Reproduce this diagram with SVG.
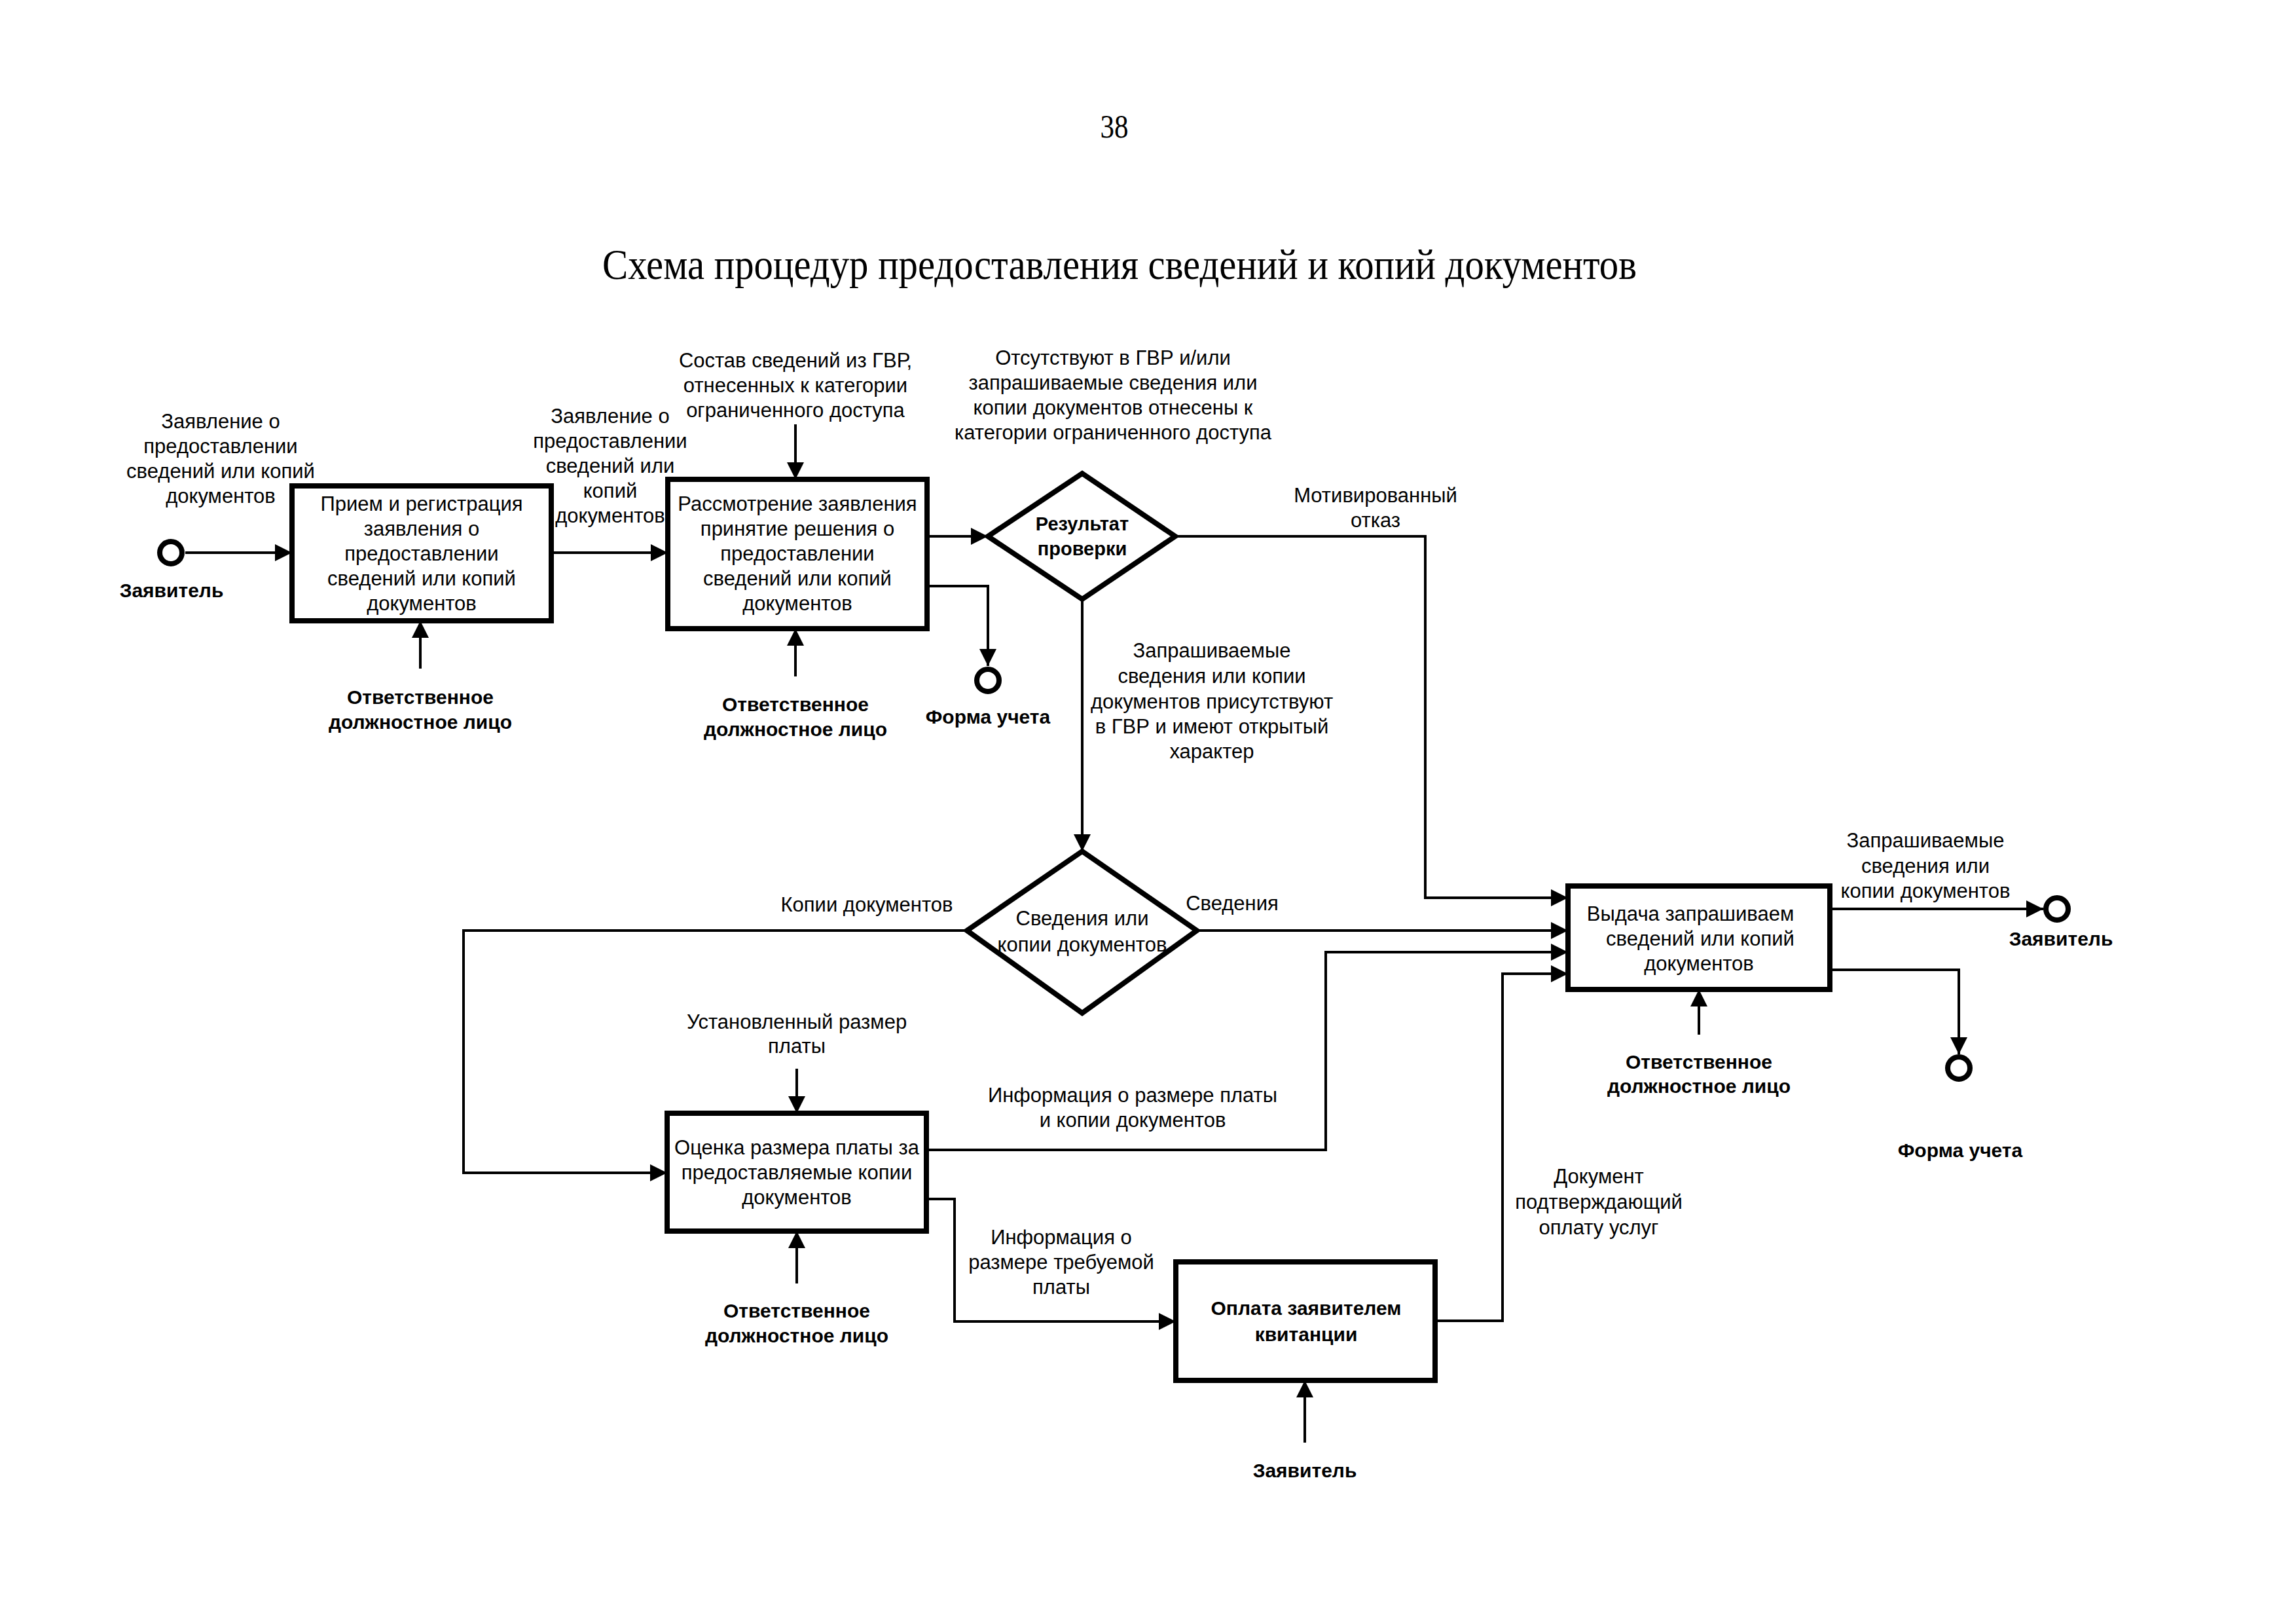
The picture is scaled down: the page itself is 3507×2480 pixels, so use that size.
<svg xmlns="http://www.w3.org/2000/svg" width="3507" height="2480" viewBox="0 0 3507 2480">
<style>
.bg{fill:#ffffff}
.box{fill:#ffffff;stroke:#000;stroke-width:8}
.dia{fill:#ffffff;stroke:#000;stroke-width:8;stroke-linejoin:miter}
.ev{fill:#ffffff;stroke:#000;stroke-width:8}
.con{fill:none;stroke:#000;stroke-width:4}
text{font-family:"Liberation Sans",Arial,sans-serif;font-size:31px;fill:#000;text-anchor:middle}
.b{font-weight:bold;font-size:30px}
.b29{font-weight:bold;font-size:29px}
.ser{font-family:"Liberation Serif","Times New Roman",serif}
.pg{font-size:50px}
.ttl{font-size:66px}
</style>
<defs>
<marker id="ah" markerUnits="userSpaceOnUse" markerWidth="28" markerHeight="28" refX="26" refY="13" orient="auto" viewBox="0 0 28 26">
<path d="M0,0 L26,13 L0,26 z" fill="#000"/>
</marker>
</defs>
<rect class="bg" x="0" y="0" width="3507" height="2480"/>

<g id="header">
<text class="ser pg" x="1702" y="210" textLength="43" lengthAdjust="spacingAndGlyphs">38</text>
<text class="ser ttl" x="1710" y="426" textLength="1580" lengthAdjust="spacingAndGlyphs">Схема процедур предоставления сведений и копий документов</text>
</g>

<g id="connectors">
<path class="con" d="M283,844 H446" marker-end="url(#ah)"/>
<path class="con" d="M842,844 H1020" marker-end="url(#ah)"/>
<path class="con" d="M642,1021 V948" marker-end="url(#ah)"/>
<path class="con" d="M1215,648 V732" marker-end="url(#ah)"/>
<path class="con" d="M1215,1033 V960" marker-end="url(#ah)"/>
<path class="con" d="M1416,819 H1509" marker-end="url(#ah)"/>
<path class="con" d="M1416,895 H1509 V1017" marker-end="url(#ah)"/>
<path class="con" d="M1795,819 H2177 V1371 H2395" marker-end="url(#ah)"/>
<path class="con" d="M1653,915 V1300" marker-end="url(#ah)"/>
<path class="con" d="M1828,1421 H2395" marker-end="url(#ah)"/>
<path class="con" d="M1477,1421 H708 V1791 H1019" marker-end="url(#ah)"/>
<path class="con" d="M1217,1632 V1700" marker-end="url(#ah)"/>
<path class="con" d="M1217,1960 V1880" marker-end="url(#ah)"/>
<path class="con" d="M1415,1756 H2025 V1454 H2395" marker-end="url(#ah)"/>
<path class="con" d="M1415,1831 H1458 V2018 H1796" marker-end="url(#ah)"/>
<path class="con" d="M1993,2203 V2108" marker-end="url(#ah)"/>
<path class="con" d="M2192,2017 H2295 V1487 H2395" marker-end="url(#ah)"/>
<path class="con" d="M2595,1580 V1511" marker-end="url(#ah)"/>
<path class="con" d="M2795,1388 H3121" marker-end="url(#ah)"/>
<path class="con" d="M2795,1481 H2992 V1610" marker-end="url(#ah)"/>
</g>

<g id="labels">
<text x="337" y="654">Заявление о</text>
<text x="337" y="692">предоставлении</text>
<text x="337" y="730">сведений или копий</text>
<text x="337" y="768">документов</text>

<text x="932" y="646">Заявление о</text>
<text x="932" y="684">предоставлении</text>
<text x="932" y="722">сведений или</text>
<text x="932" y="760">копий</text>
<text x="932" y="798">документов</text>

<text x="1215" y="561">Состав сведений из ГВР,</text>
<text x="1215" y="599">отнесенных к категории</text>
<text x="1215" y="637">ограниченного доступа</text>

<text x="1700" y="557">Отсутствуют в ГВР и/или</text>
<text x="1700" y="595">запрашиваемые сведения или</text>
<text x="1700" y="633">копии документов отнесены к</text>
<text x="1700" y="671">категории ограниченного доступа</text>

<text x="2101" y="767">Мотивированный</text>
<text x="2101" y="805">отказ</text>

<text x="1851" y="1004">Запрашиваемые</text>
<text x="1851" y="1043">сведения или копии</text>
<text x="1851" y="1082">документов присутствуют</text>
<text x="1851" y="1120">в ГВР и имеют открытый</text>
<text x="1851" y="1158">характер</text>

<text x="1324" y="1392">Копии документов</text>
<text x="1882" y="1390">Сведения</text>

<text x="1217" y="1571">Установленный размер</text>
<text x="1217" y="1608">платы</text>

<text x="1730" y="1683">Информация о размере платы</text>
<text x="1730" y="1721">и копии документов</text>

<text x="1621" y="1900">Информация о</text>
<text x="1621" y="1938">размере требуемой</text>
<text x="1621" y="1976">платы</text>

<text x="2442" y="1807">Документ</text>
<text x="2442" y="1846">подтверждающий</text>
<text x="2442" y="1885">оплату услуг</text>

<text x="2941" y="1294">Запрашиваемые</text>
<text x="2941" y="1333">сведения или</text>
<text x="2941" y="1371">копии документов</text>

<text class="b" x="642" y="1075">Ответственное</text>
<text class="b" x="642" y="1113">должностное лицо</text>
<text class="b" x="1215" y="1086">Ответственное</text>
<text class="b" x="1215" y="1124">должностное лицо</text>
<text class="b" x="1217" y="2012">Ответственное</text>
<text class="b" x="1217" y="2050">должностное лицо</text>
<text class="b" x="2595" y="1632">Ответственное</text>
<text class="b" x="2595" y="1669">должностное лицо</text>
<text class="b" x="1993" y="2256">Заявитель</text>
</g>

<g id="start-applicant">
<circle class="ev" cx="261" cy="844" r="17"/>
<text class="b" x="262" y="912">Заявитель</text>
</g>

<g id="box-reception">
<rect class="box" x="446" y="742" width="396" height="206"/>
<text x="644" y="780">Прием и регистрация</text>
<text x="644" y="818">заявления о</text>
<text x="644" y="856">предоставлении</text>
<text x="644" y="894">сведений или копий</text>
<text x="644" y="932">документов</text>
</g>

<g id="box-review">
<rect class="box" x="1020" y="732" width="396" height="228"/>
<text x="1218" y="780">Рассмотрение заявления</text>
<text x="1218" y="818">принятие решения о</text>
<text x="1218" y="856">предоставлении</text>
<text x="1218" y="894">сведений или копий</text>
<text x="1218" y="932">документов</text>
</g>

<g id="end-form1">
<circle class="ev" cx="1509" cy="1039" r="17"/>
<text class="b" x="1509" y="1105">Форма учета</text>
</g>

<g id="decision-result">
<polygon class="dia" points="1509,819 1653,723 1795,819 1653,915"/>
<text class="b29" x="1653" y="810">Результат</text>
<text class="b29" x="1653" y="848">проверки</text>
</g>

<g id="decision-type">
<polygon class="dia" points="1477,1421 1653,1300 1828,1421 1653,1547"/>
<text x="1653" y="1413">Сведения или</text>
<text x="1653" y="1453">копии документов</text>
</g>

<g id="box-fee">
<rect class="box" x="1019" y="1700" width="396" height="180"/>
<text x="1217" y="1763">Оценка размера платы за</text>
<text x="1217" y="1801">предоставляемые копии</text>
<text x="1217" y="1839">документов</text>
</g>

<g id="box-payment">
<rect class="box" x="1796" y="1927" width="396" height="181"/>
<text class="b" x="1995" y="2008">Оплата заявителем</text>
<text class="b" x="1995" y="2048">квитанции</text>
</g>

<g id="box-issue">
<rect class="box" x="2395" y="1353" width="400" height="158"/>
<text x="2582" y="1406">Выдача запрашиваем</text>
<text x="2597" y="1444">сведений или копий</text>
<text x="2595" y="1482">документов</text>
</g>

<g id="end-applicant">
<circle class="ev" cx="3142" cy="1388" r="17"/>
<text class="b" x="3148" y="1444">Заявитель</text>
</g>

<g id="end-form2">
<circle class="ev" cx="2992" cy="1631" r="17"/>
<text class="b" x="2994" y="1767">Форма учета</text>
</g>
</svg>
